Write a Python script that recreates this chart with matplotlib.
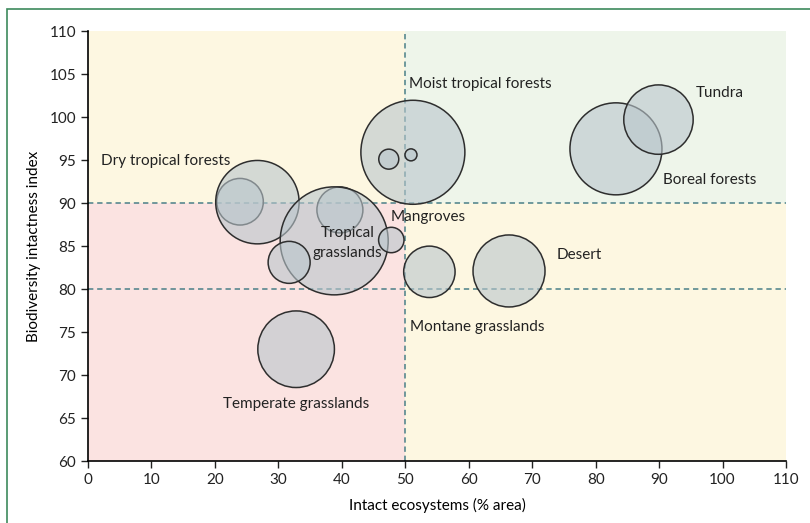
import numpy as np
import matplotlib
matplotlib.use("Agg")
import matplotlib.pyplot as plt
from matplotlib.patches import Rectangle

plt.rcParams['font.family'] = ['Lato', 'DejaVu Sans']

# bubbles (drawn in this order); size = radius in pixels
bx = [23.96, 26.7, 39.7, 38.8, 31.7, 47.8, 51.2, 47.4, 50.9, 53.8, 66.35, 32.8, 83.2, 89.9]
by = [90.15, 90.1, 89.2, 85.6, 83.1, 85.7, 95.9, 95.1, 95.6, 82.0, 82.1, 73.0, 96.3, 99.7]
br = [23.3, 41.7, 23.0, 54.0, 21.0, 12.7, 52.0, 10.0, 6.0, 25.7, 36.0, 38.3, 46.0, 34.7]

labels = ["Moist tropical forests", "Tundra", "Dry tropical forests", "Boreal forests",
          "Mangroves", "Tropical\ngrasslands", "Desert", "Montane grasslands",
          "Temperate grasslands"]
lx = [50.6, 95.8, 2.05, 90.6, 47.75, 40.9, 73.9, 50.75, 32.8]
ly = [103.8, 102.8, 94.9, 92.7, 88.4, 85.4, 84.0, 75.6, 66.6]
lha = ["left", "left", "left", "left", "left", "center", "left", "left", "center"]

xticks = list(range(0, 111, 10))
yticks = list(range(60, 111, 5))

fig = plt.figure(figsize=(8.1, 5.23), dpi=100)
ax = fig.add_axes([0.1086, 0.1185, 0.8618, 0.8222])

# quadrant backgrounds
ax.add_patch(Rectangle((0, 90), 50, 20, color="#fdf7e1", zorder=0, lw=0))
ax.add_patch(Rectangle((50, 90), 60, 20, color="#eef5ea", zorder=0, lw=0))
ax.add_patch(Rectangle((0, 60), 50, 30, color="#fbe3e1", zorder=0, lw=0))
ax.add_patch(Rectangle((50, 60), 60, 30, color="#fdf7e1", zorder=0, lw=0))

dash = dict(color="#4a7f88", lw=1.1, ls=(0, (3.5, 2.5)), zorder=1)
ax.axvline(50, **dash)
ax.axhline(90, **dash)
ax.axhline(80, **dash)

sizes = [(2 * r * 0.72) ** 2 for r in br]
ax.scatter(bx, by, s=sizes, facecolors=(185/255, 198/255, 204/255, 0.6),
           edgecolors="#2e2e2e", linewidths=1.1, zorder=3)

for t, x, y, ha in zip(labels, lx, ly, lha):
    ax.text(x, y, t, ha=ha, va="center", fontsize=11, color="#222222",
            zorder=5, linespacing=1.55)

ax.set_xlim(0, 110)
ax.set_ylim(60, 110)
ax.set_xticks(xticks)
ax.set_yticks(yticks)
ax.tick_params(direction="out", length=5, width=1, labelsize=11, colors="#222222")
for s in ["top", "right"]:
    ax.spines[s].set_visible(False)
for s in ["left", "bottom"]:
    ax.spines[s].set_linewidth(1.2)
ax.set_xlabel("Intact ecosystems (% area)", fontsize=11, labelpad=8)
ax.set_ylabel("Biodiversity intactness index", fontsize=11, labelpad=6)

# green frame around panel
fig.add_artist(Rectangle((6.5 / 810, -0.1), 1.2, 1.1 - 8.5 / 523, transform=fig.transFigure,
                         fill=False, edgecolor="#3d8a5c", lw=1.2))

fig.savefig("out.png", dpi=100)
